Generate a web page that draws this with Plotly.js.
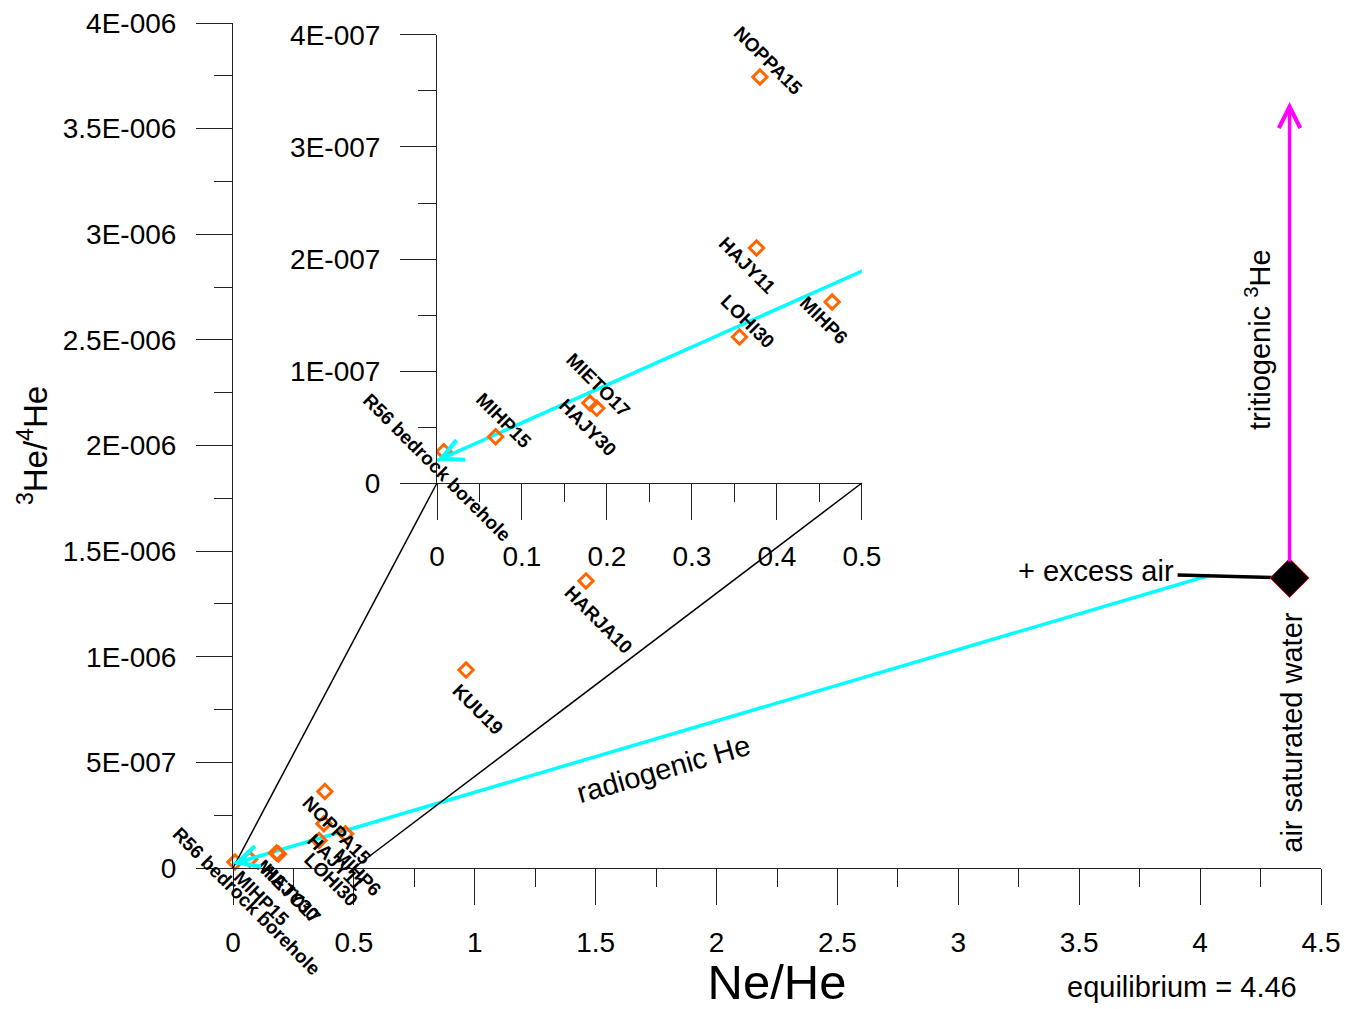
<!DOCTYPE html>
<html>
<head>
<meta charset="utf-8">
<script src="https://cdn.plot.ly/plotly-3.0.1.min.js"></script>
<style>body{margin:0;padding:0;background:#fff}#chart{width:1358px;height:1009px}</style>
</head>
<body>
<div id="chart"></div>
<script>
// ---- data ----
var sampleNames = ["R56 bedrock borehole","MIHP15","MIETO17","HAJY30","LOHI30","HAJY11","NOPPA15","MIHP6","KUU19","HARJA10"];
var neHe = [0.008, 0.069, 0.180, 0.188, 0.356, 0.376, 0.380, 0.465, 0.964, 1.460];
var he3he4 = [2.8e-8, 4.13e-8, 7.14e-8, 6.67e-8, 1.304e-7, 2.098e-7, 3.625e-7, 1.616e-7, 9.37e-7, 1.359e-6];

// radiogenic mixing line (end at air-saturated side, tip near origin)
var mixX = [4.04, 0.0];
var mixY = [1.386e-6, 2.0e-8];
// excess air segment
var excessX = [3.907, 4.37];
var excessY = [1.387e-6, 1.373e-6];
// air saturated water point
var aswX = [4.37];
var aswY = [1.373e-6];
// tritiogenic arrow
var tritX = [4.37, 4.37];
var tritY = [1.373e-6, 3.626e-6];

// axes ticks
var mainXTicks = [0, 0.5, 1, 1.5, 2, 2.5, 3, 3.5, 4, 4.5];
var mainXText = ["0","0.5","1","1.5","2","2.5","3","3.5","4","4.5"];
var mainYTicks = [0, 5e-7, 1e-6, 1.5e-6, 2e-6, 2.5e-6, 3e-6, 3.5e-6, 4e-6];
var mainYText = ["0","5E-007","1E-006","1.5E-006","2E-006","2.5E-006","3E-006","3.5E-006","4E-006"];
var insetXTicks = [0, 0.1, 0.2, 0.3, 0.4, 0.5];
var insetXText = ["0","0.1","0.2","0.3","0.4","0.5"];
var insetYTicks = [0, 1e-7, 2e-7, 3e-7, 4e-7];
var insetYText = ["0","1E-007","2E-007","3E-007","4E-007"];
var mainXRange = [0, 4.5], mainYRange = [0, 4e-6];
var insetXRange = [0, 0.5], insetYRange = [0, 4e-7];

// ---- styles ----
var FONT = "Liberation Sans, Arial, sans-serif";
var orange = "#FF6600", cyan = "#00FFFF", magenta = "#FF00FF";
var insetDom = {x: [0.1875, 0.578], y: [0.4556, 0.9858]};
// label offsets for inset (px, right / up)
var insetShiftX = [-7, 8, 9, -9, 8, -9, 8, -8];
var insetShiftY = [-16, 16, 18, -19, 15, -17, 16, -18];
var labelSize = 19;

var traces = [
  {x: mixX, y: mixY, xaxis: "x", yaxis: "y", mode: "lines", line: {color: cyan, width: 3.5}, hoverinfo: "skip"},
  {x: mixX, y: mixY, xaxis: "x2", yaxis: "y2", mode: "lines", line: {color: cyan, width: 3.5}, hoverinfo: "skip"},
  {x: excessX, y: excessY, xaxis: "x", yaxis: "y", mode: "lines", line: {color: "#000", width: 3.5}, hoverinfo: "skip"},
  {x: neHe, y: he3he4, xaxis: "x", yaxis: "y", mode: "markers", marker: {symbol: "diamond-open", size: 11, color: orange, line: {color: orange, width: 3}}, cliponaxis: false},
  {x: neHe, y: he3he4, xaxis: "x2", yaxis: "y2", mode: "markers", marker: {symbol: "diamond-open", size: 11, color: orange, line: {color: orange, width: 3}}},
  {x: aswX, y: aswY, xaxis: "x", yaxis: "y", mode: "markers", marker: {symbol: "diamond", size: 30, color: "#000", line: {color: "#FF0000", width: 1}}, cliponaxis: false}
];

var annotations = [];
// main labels
for (var i = 0; i < sampleNames.length; i++) {
  annotations.push({xref: "x", yref: "y", x: neHe[i], y: he3he4[i], text: sampleNames[i], showarrow: false,
    textangle: 45, xshift: 12, yshift: -39, font: {family: FONT, size: labelSize, color: "#000", weight: 700}});
}
// inset labels
var k = 0;
for (var j = 0; j < sampleNames.length; j++) {
  if (neHe[j] <= insetXRange[1] && he3he4[j] <= insetYRange[1]) {
    annotations.push({xref: "x2", yref: "y2", x: neHe[j], y: he3he4[j], text: sampleNames[j], showarrow: false,
      textangle: 45, xshift: insetShiftX[k], yshift: insetShiftY[k], font: {family: FONT, size: labelSize, color: "#000", weight: 700}});
    k++;
  }
}
// arrowheads of mixing line
function pointOnMix(t) { return [mixX[1] + (mixX[0] - mixX[1]) * t, mixY[1] + (mixY[0] - mixY[1]) * t]; }
var pm = pointOnMix(0.03);
annotations.push({xref: "x", yref: "y", axref: "x", ayref: "y", x: mixX[1], y: mixY[1], ax: pm[0], ay: pm[1], text: "",
  showarrow: true, arrowhead: 5, arrowsize: 1.2, arrowwidth: 3.5, arrowcolor: cyan, standoff: 0});
var pi = pointOnMix(0.005);
annotations.push({xref: "x2", yref: "y2", axref: "x2", ayref: "y2", x: mixX[1], y: mixY[1], ax: pi[0], ay: pi[1], text: "",
  showarrow: true, arrowhead: 5, arrowsize: 1.2, arrowwidth: 3.5, arrowcolor: cyan, standoff: 0});
// tritiogenic arrow
annotations.push({xref: "x", yref: "y", axref: "x", ayref: "y", x: tritX[1], y: tritY[1], ax: tritX[0], ay: tritY[0], text: "",
  showarrow: true, arrowhead: 5, arrowsize: 1.2, arrowwidth: 3.5, arrowcolor: magenta, standoff: 0, startstandoff: 15});
// text labels
var tf = {family: FONT, size: 29, color: "#000"};
annotations.push({xref: "paper", yref: "paper", x: (1182 - 233) / 1088, y: (868 - 987) / 845, text: "equilibrium = 4.46", showarrow: false, font: tf, xanchor: "center", yanchor: "middle"});
annotations.push({xref: "x", yref: "y", x: 1.78, y: 4.68e-7, text: "radiogenic He", showarrow: false, textangle: -16, font: tf});
annotations.push({xref: "x", yref: "y", x: 3.9, y: 1.405e-6, text: "+ excess air", showarrow: false, xanchor: "right", font: tf});
annotations.push({xref: "x", yref: "y", x: 4.24, y: 2.5e-6, text: "tritiogenic <sup>3</sup>He", showarrow: false, textangle: -90, font: tf});
annotations.push({xref: "x", yref: "y", x: 4.38, y: 6.45e-7, text: "air saturated water", showarrow: false, textangle: -90, font: tf});

// connecting lines main -> inset
function px(v, r, d) { return d[0] + (d[1] - d[0]) * (v - r[0]) / (r[1] - r[0]); }
var shapes = [
  {type: "line", xref: "paper", yref: "paper",
   x0: px(insetXRange[0], mainXRange, [0, 1]), y0: px(insetYRange[0], mainYRange, [0, 1]),
   x1: px(insetXRange[0], insetXRange, insetDom.x), y1: px(insetYRange[0], insetYRange, insetDom.y),
   line: {color: "#000", width: 1.5}},
  {type: "line", xref: "paper", yref: "paper",
   x0: px(insetXRange[1], mainXRange, [0, 1]), y0: px(insetYRange[0], mainYRange, [0, 1]),
   x1: px(insetXRange[1], insetXRange, insetDom.x), y1: px(insetYRange[0], insetYRange, insetDom.y),
   line: {color: "#000", width: 1.5}}
];

function axisBase(extra) {
  var a = {showline: true, linecolor: "#222", linewidth: 1, ticks: "outside", ticklen: 36, tickcolor: "#222", tickwidth: 1,
    showgrid: false, zeroline: false, tickfont: {family: FONT, size: 28, color: "#000"}, tickmode: "array", fixedrange: true};
  for (var key in extra) a[key] = extra[key];
  return a;
}

var layout = {
  width: 1358, height: 1009,
  margin: {l: 233, r: 37, t: 23, b: 141},
  paper_bgcolor: "#fff", plot_bgcolor: "rgba(0,0,0,0)",
  showlegend: false,
  xaxis: axisBase({domain: [0, 1], range: mainXRange, anchor: "y", tickvals: mainXTicks, ticktext: mainXText,
    minor: {tick0: 0, dtick: 0.25, ticklen: 18, ticks: "outside", tickcolor: "#222"}, ticklabelstandoff: 13,
    title: {text: "Ne/He", font: {family: FONT, size: 49, color: "#000"}, standoff: 18}}),
  yaxis: axisBase({domain: [0, 1], range: mainYRange, anchor: "x", tickvals: mainYTicks, ticktext: mainYText,
    minor: {tick0: 0, dtick: 2.5e-7, ticklen: 18, ticks: "outside", tickcolor: "#222"}, ticklabelstandoff: 14,
    title: {text: "<sup>3</sup>He/<sup>4</sup>He", font: {family: FONT, size: 33, color: "#000"}, standoff: 5}}),
  xaxis2: axisBase({domain: insetDom.x, range: insetXRange, anchor: "y2", tickvals: insetXTicks, ticktext: insetXText,
    minor: {tick0: 0, dtick: 0.05, ticklen: 18, ticks: "outside", tickcolor: "#222"}, ticklabelstandoff: 12}),
  yaxis2: axisBase({domain: insetDom.y, range: insetYRange, anchor: "x2", tickvals: insetYTicks, ticktext: insetYText,
    minor: {tick0: 0, dtick: 5e-8, ticklen: 18, ticks: "outside", tickcolor: "#222"}, ticklabelstandoff: 14}),
  annotations: annotations,
  shapes: shapes
};

Plotly.newPlot("chart", traces, layout, {displayModeBar: false, staticPlot: true});
</script>
</body>
</html>
